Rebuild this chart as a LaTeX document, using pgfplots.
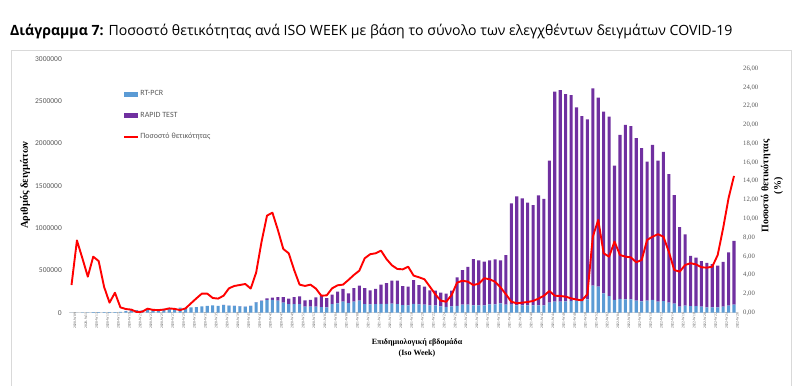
\documentclass[border=0pt]{standalone}
\usepackage{fontspec}
\setmainfont{Open Sans}
\newfontfamily\carlito{Carlito}
\newfontfamily\lserif{Liberation Serif}
\usepackage{pgfplots}
\pgfplotsset{compat=1.18}
\usepackage{pgfplotstable}
\definecolor{pcrblue}{HTML}{5B9BD5}
\definecolor{rapidpurple}{HTML}{7030A0}
\definecolor{labgray}{HTML}{595959}
\definecolor{framegray}{HTML}{D9D9D9}

\pgfplotstableread{
x pcr rapid pos
0 2000 0 2.95
1 2000 0 7.70
2 3000 0 5.80
3 5000 0 3.84
4 6000 0 5.97
5 6000 0 5.50
6 7000 0 2.75
7 8000 0 1.07
8 8000 0 2.13
9 10000 0 0.57
10 20000 0 0.39
11 30000 0 0.33
12 30000 0 0.08
13 28000 0 0.10
14 40000 0 0.43
15 40000 0 0.30
16 43000 0 0.28
17 46000 0 0.33
18 50000 0 0.46
19 55000 0 0.40
20 60000 0 0.28
21 55000 0 0.46
22 63000 0 1.00
23 67000 0 1.53
24 75000 0 2.03
25 80000 0 2.03
26 87000 0 1.57
27 80000 0 1.50
28 90000 2000 1.81
29 83000 2000 2.60
30 80000 2000 2.85
31 75000 2000 2.95
32 71000 2000 3.06
33 80000 2000 2.57
34 122000 3000 4.27
35 138000 4000 7.57
36 150000 19000 10.34
37 150000 27000 10.66
38 142000 43000 8.82
39 118000 67000 6.79
40 100000 65000 6.33
41 100000 85000 4.55
42 100000 93000 2.99
43 71000 75000 2.85
44 71000 79000 2.99
45 71000 110000 2.57
46 67000 138000 1.81
47 63000 110000 1.85
48 100000 113000 2.60
49 110000 138000 2.92
50 130000 150000 2.99
51 114000 114000 3.49
52 130000 161000 4.02
53 142000 177000 4.48
54 100000 191000 5.80
55 98000 166000 6.23
56 100000 180000 6.33
57 104000 227000 6.61
58 104000 246000 5.72
59 106000 272000 5.05
60 102000 276000 4.66
61 90000 225000 4.62
62 87000 220000 4.90
63 103000 282000 3.95
64 98000 229000 3.77
65 95000 212000 3.56
66 87000 177000 2.77
67 87000 173000 1.96
68 75000 161000 1.28
69 70000 154000 1.17
70 75000 185000 1.89
71 80000 338000 3.20
72 95000 409000 3.41
73 95000 445000 3.30
74 87000 547000 2.95
75 87000 532000 3.09
76 87000 516000 3.67
77 98000 521000 3.56
78 98000 532000 3.30
79 110000 509000 2.70
80 95000 586000 1.96
81 95000 1197000 1.17
82 87000 1288000 1.00
83 87000 1264000 1.07
84 87000 1213000 1.14
85 87000 1185000 1.25
86 87000 1299000 1.50
87 87000 1256000 1.81
88 118000 1677000 2.31
89 130000 2480000 1.81
90 130000 2500000 1.78
91 134000 2449000 1.71
92 138000 2433000 1.53
93 142000 2284000 1.40
94 138000 2185000 1.32
95 158000 2126000 1.96
96 319000 2331000 8.10
97 307000 2233000 9.88
98 229000 2145000 6.33
99 197000 2118000 5.97
100 150000 1586000 7.57
101 162000 1937000 6.15
102 158000 2059000 5.97
103 158000 2047000 5.90
104 142000 1921000 5.37
105 134000 1811000 5.62
106 142000 1641000 7.75
107 150000 1831000 8.10
108 130000 1665000 8.36
109 138000 1762000 8.10
110 118000 1520000 6.50
111 106000 1284000 4.55
112 71000 941000 4.37
113 83000 843000 5.08
114 79000 591000 5.27
115 79000 571000 5.15
116 71000 539000 4.84
117 63000 524000 4.80
118 63000 512000 4.90
119 63000 492000 6.15
120 71000 529000 9.00
121 83000 630000 12.20
122 95000 752000 14.57
}\data

\begin{document}
\begin{tikzpicture}
\path[use as bounding box] (0bp,0bp) rectangle (797bp,386bp);
% chart frame
\draw[framegray, line width=0.8bp] (11.7bp,0bp) -- (11.7bp,336bp) -- (791bp,336bp) -- (791bp,0bp);
% title
\node[anchor=base west, inner sep=0pt, font=\fontsize{14.1bp}{16bp}\selectfont] at (10bp,350bp) {\textbf{Διάγραμμα 7:} Ποσοστό θετικότητας ανά ISO WEEK με βάση το σύνολο των ελεγχθέντων δειγμάτων COVID-19};
% axis titles
\node[rotate=90, font=\fontsize{10.5bp}{12bp}\selectfont\lserif\bfseries] at (25bp,201bp) {Αριθμός δειγμάτων};
\node[rotate=90, align=center, font=\fontsize{10bp}{12.5bp}\selectfont\lserif\bfseries] at (772bp,200bp) {Ποσοστό θετικότητας\\(\%)};
\node[align=center, font=\fontsize{8bp}{10.5bp}\selectfont\lserif\bfseries] at (417bp,38bp) {Επιδημιολογική εβδομάδα\\(Iso Week)};

\begin{axis}[
  at={(68.8bp,73.3bp)}, anchor=south west,
  scale only axis, width=667.9bp, height=254bp,
  xmin=-0.5, xmax=122.5, ymin=0, ymax=3000000,
  ybar stacked, bar width=3.1bp,
  axis x line*=bottom, axis y line*=left,
  x axis line style={draw=framegray, line width=0.8bp},
  y axis line style={draw=none},
  major tick length=0pt,
  ytick={0,500000,...,3000000},
  scaled y ticks=false,
  yticklabel style={font=\fontsize{7.5bp}{9bp}\selectfont\carlito, text=labgray, inner sep=0pt, xshift=-6.8bp,
    /pgf/number format/fixed, /pgf/number format/1000 sep={}, /pgf/number format/assume math mode=true},
  xtick={0,2,...,122},
  xticklabels={2020-W09,2020-W11,2020-W13,2020-W15,2020-W17,2020-W19,2020-W21,2020-W23,2020-W25,2020-W27,2020-W29,2020-W31,2020-W33,2020-W35,2020-W37,2020-W39,2020-W41,2020-W43,2020-W45,2020-W47,2020-W49,2020-W51,2020-W53,2021-W02,2021-W04,2021-W06,2021-W08,2021-W10,2021-W12,2021-W14,2021-W16,2021-W18,2021-W20,2021-W22,2021-W24,2021-W26,2021-W28,2021-W30,2021-W32,2021-W34,2021-W36,2021-W38,2021-W40,2021-W42,2021-W44,2021-W46,2021-W48,2021-W50,2021-W52,2022-W02,2022-W04,2022-W06,2022-W08,2022-W10,2022-W12,2022-W14,2022-W16,2022-W18,2022-W20,2022-W22,2022-W24,2022-W26},
  xticklabel style={rotate=90, anchor=east, font=\fontsize{3.7bp}{4.2bp}\selectfont\lserif, text=labgray, inner sep=0pt, yshift=-3.5bp},
  clip=false,
]
\addplot[fill=pcrblue, draw=none] table[x=x, y=pcr]{\data};
\addplot[fill=rapidpurple, draw=none] table[x=x, y=rapid]{\data};
\end{axis}

\begin{axis}[
  at={(68.8bp,73.3bp)}, anchor=south west,
  scale only axis, width=667.9bp, height=254bp,
  xmin=-0.5, xmax=122.5, ymin=0, ymax=27.06,
  axis x line=none,
  axis y line*=right,
  y axis line style={draw=none},
  major tick length=0pt,
  ytick={0,2,...,26},
  yticklabel style={font=\fontsize{6.7bp}{8bp}\selectfont\lserif, text=labgray, inner sep=0pt, xshift=6.3bp,
    /pgf/number format/fixed, /pgf/number format/fixed zerofill, /pgf/number format/precision=2,
    /pgf/number format/use comma, /pgf/number format/assume math mode=true},
  legend style={at={(0.0812,0.875)}, anchor=north west, draw=none, fill=none, inner sep=0pt,
    row sep=15bp, column sep=2bp,
    font=\fontsize{8bp}{9bp}\selectfont\carlito, text=labgray,
    nodes={inner sep=0pt, text height=5bp, text depth=1.5bp}},
  legend cell align=left,
]
\addlegendimage{legend image code/.code={\fill[pcrblue] (0bp,-2bp) rectangle (13.4bp,2bp);}}
\addlegendentry{RT-PCR}
\addlegendimage{legend image code/.code={\fill[rapidpurple] (0bp,-2bp) rectangle (13.4bp,2bp);}}
\addlegendentry{RAPID TEST}
\addlegendimage{legend image code/.code={\draw[red, line width=1.8bp] (0bp,0bp) -- (13.4bp,0bp);}}
\addlegendentry{Ποσοστό θετικότητας}
\addplot[red, line width=1.9bp, line join=round, no markers, forget plot] table[x=x, y=pos]{\data};
\end{axis}
\end{tikzpicture}
\end{document}
